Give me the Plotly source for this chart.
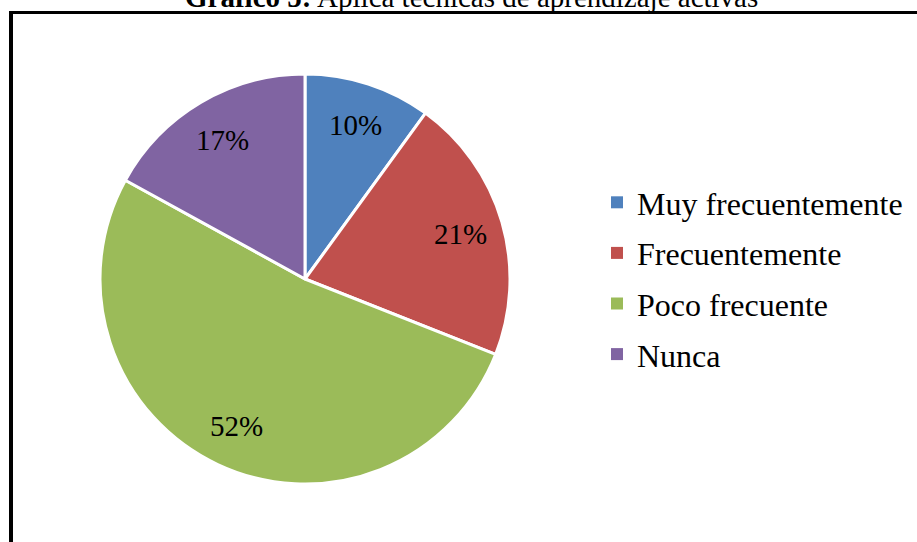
import numpy as np
import plotly.graph_objects as go

categories = ["Muy frecuentemente", "Frecuentemente", "Poco frecuente", "Nunca"]
values = [10, 21, 52, 17]
colors = ["#4F81BD", "#C0504D", "#9BBB59", "#8064A2"]
title_bold = "Gráfico 5:"
title_rest = "Aplica técnicas de aprendizaje activas"

W, H = 917, 542
cx, cy, r = 305, 279, 205
dom = dict(x=[(cx - r) / W, (cx + r) / W], y=[(H - cy - r) / H, (H - cy + r) / H])

fig = go.Figure()
fig.add_trace(go.Pie(
    labels=categories,
    values=values,
    sort=False,
    direction="clockwise",
    rotation=0,
    marker=dict(colors=colors, line=dict(color="white", width=3)),
    textinfo="none",
    showlegend=False,
    domain=dom,
    hoverinfo="label+percent",
))

# percentage labels placed along each slice's mid-angle (derived from values)
vals = np.array(values, dtype=float)
frac = vals / vals.sum()
mid = (np.cumsum(frac) - frac / 2) * 2 * np.pi
label_r = 0.79 * r
annotations = []
for f, a in zip(frac, mid):
    px = cx + label_r * np.sin(a)
    py = cy - label_r * np.cos(a)
    annotations.append(dict(
        x=px / W, y=(H - py) / H, xref="paper", yref="paper",
        text=f"{round(f * 100)}%", showarrow=False,
        xanchor="center", yanchor="middle",
        font=dict(family="Liberation Serif", size=29, color="black"),
    ))

# title (partly cut off at the top, as in the reference)
annotations.append(dict(
    x=471 / W, y=1.0, xref="paper", yref="paper",
    text=f"<b>{title_bold}</b> {title_rest}", showarrow=False,
    xanchor="center", yanchor="middle", yshift=3,
    font=dict(family="Liberation Serif", size=29, color="black"),
))

# legend entries
for cat, col in zip(categories, colors):
    fig.add_trace(go.Scatterpolar(
        r=[None], theta=[None], mode="markers", name=cat, legendgroup=cat,
        marker=dict(symbol="square", size=10, color=col),
        showlegend=True, hoverinfo="skip",
    ))

fig.update_layout(
    width=W, height=H,
    margin=dict(l=0, r=0, t=0, b=0),
    paper_bgcolor="white",
    font=dict(family="Liberation Serif", color="black"),
    polar=dict(
        domain=dom,
        bgcolor="rgba(0,0,0,0)",
        radialaxis=dict(visible=False, range=[0, 1]),
        angularaxis=dict(visible=False, rotation=90, direction="clockwise"),
    ),
    annotations=annotations,
    legend=dict(
        x=597 / W, xanchor="left", y=(H - 175) / H, yanchor="top",
        font=dict(family="Liberation Serif", size=32, color="black"),
        tracegroupgap=6, itemsizing="constant",
        bgcolor="rgba(0,0,0,0)",
    ),
    shapes=[
        dict(type="line", xref="paper", yref="paper",
             x0=9 / W, x1=1.05, y0=(H - 12.5) / H, y1=(H - 12.5) / H,
             line=dict(color="black", width=3), layer="above"),
        dict(type="line", xref="paper", yref="paper",
             x0=11 / W, x1=11 / W, y0=-0.05, y1=(H - 11) / H,
             line=dict(color="black", width=4), layer="above"),
    ],
)

fig.write_html("out.html", config={"displayModeBar": False},
               post_script="document.body.style.margin='0px';")
